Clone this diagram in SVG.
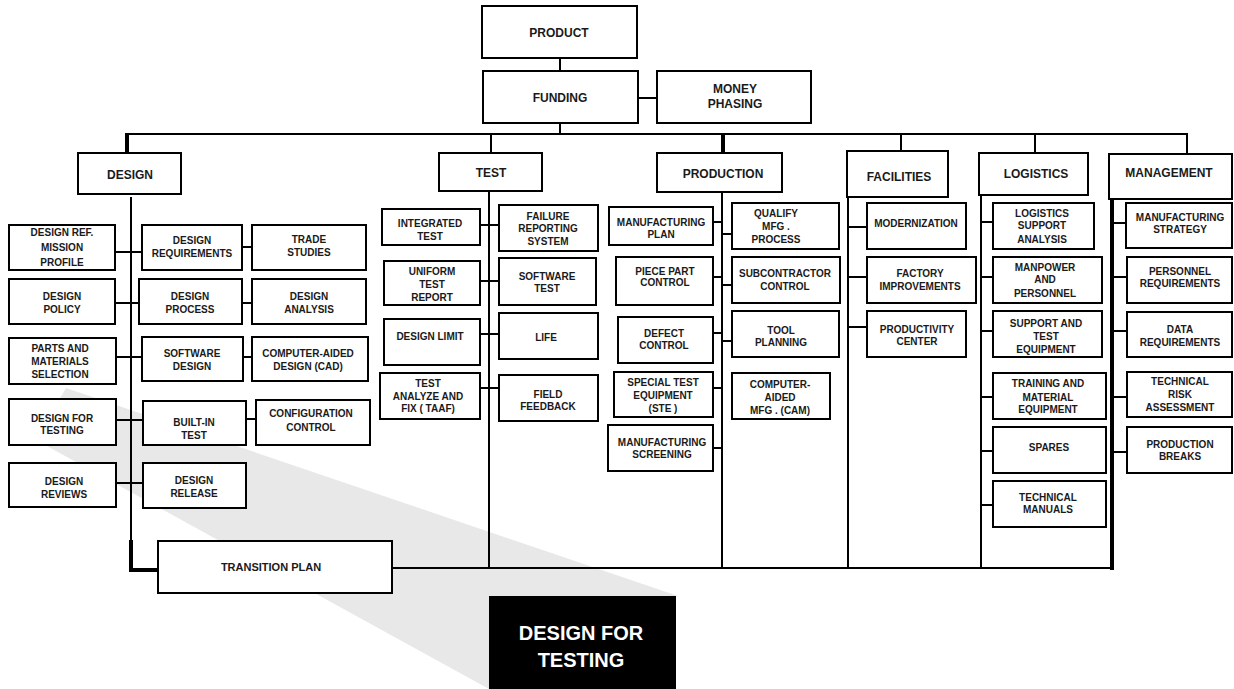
<svg xmlns="http://www.w3.org/2000/svg" width="1234" height="689" viewBox="0 0 1234 689">
<style>
.b{fill:#fff;stroke:#000;stroke-width:2}
.c line,.c path{stroke:#000;stroke-width:2;fill:none}
.c .k{stroke-width:4}
text{font-family:"Liberation Sans",Arial,sans-serif;font-weight:bold;font-size:10px;text-anchor:middle;fill:#1a1a1a}
.h text{font-size:12px}
</style>
<polygon points="66,388 678,596 489,689 36,440" fill="#e8e8e8"/>
<g class="c" id="connectors">
<line x1="560" y1="58" x2="560" y2="71"/>
<line x1="638" y1="98" x2="657" y2="98"/>
<line x1="560" y1="123" x2="560" y2="134"/>
<line x1="126" y1="134" x2="1188" y2="134"/>
<line class="k" x1="127" y1="133" x2="127" y2="153"/>
<line x1="491" y1="134" x2="491" y2="153"/>
<line class="k" x1="723" y1="134" x2="723" y2="153"/>
<line x1="901" y1="134" x2="901" y2="151"/>
<line x1="1035" y1="134" x2="1035" y2="153"/>
<line x1="1187" y1="134" x2="1187" y2="154"/>
<line x1="131" y1="197" x2="131" y2="545"/>
<path class="k" d="M131,540 V570 H158"/>
<line x1="115" y1="252" x2="142" y2="252"/>
<line x1="242" y1="247" x2="252" y2="247"/>
<line x1="115" y1="303" x2="139" y2="303"/>
<line x1="242" y1="303" x2="252" y2="303"/>
<line x1="116" y1="357" x2="142" y2="357"/>
<line x1="243" y1="357" x2="252" y2="357"/>
<line x1="116" y1="420" x2="143" y2="420"/>
<line x1="246" y1="419" x2="256" y2="419"/>
<line x1="116" y1="483" x2="143" y2="483"/>
<line x1="489" y1="191" x2="489" y2="568"/>
<line x1="480" y1="225" x2="499" y2="225"/>
<line x1="480" y1="281" x2="499" y2="281"/>
<line x1="480" y1="334" x2="499" y2="334"/>
<line x1="480" y1="388" x2="499" y2="388"/>
<line x1="722" y1="192" x2="722" y2="568"/>
<line x1="713" y1="222" x2="722" y2="222"/>
<line x1="713" y1="277" x2="722" y2="277"/>
<line x1="713" y1="333" x2="722" y2="333"/>
<line x1="713" y1="388" x2="722" y2="388"/>
<line x1="713" y1="448" x2="722" y2="448"/>
<line x1="722" y1="234" x2="732" y2="234"/>
<line x1="722" y1="285" x2="732" y2="285"/>
<line x1="722" y1="341" x2="732" y2="341"/>
<line x1="848" y1="197" x2="848" y2="568"/>
<line x1="848" y1="227" x2="867" y2="227"/>
<line x1="848" y1="277" x2="867" y2="277"/>
<line x1="848" y1="327" x2="867" y2="327"/>
<line x1="981" y1="195" x2="981" y2="568"/>
<line x1="981" y1="222" x2="993" y2="222"/>
<line x1="981" y1="277" x2="993" y2="277"/>
<line x1="981" y1="331" x2="993" y2="331"/>
<line x1="981" y1="397" x2="993" y2="397"/>
<line x1="981" y1="451" x2="993" y2="451"/>
<line x1="981" y1="505" x2="993" y2="505"/>
<line class="k" x1="1112" y1="199" x2="1112" y2="570"/>
<line x1="1112" y1="223" x2="1127" y2="223"/>
<line x1="1112" y1="277" x2="1127" y2="277"/>
<line x1="1112" y1="331" x2="1127" y2="331"/>
<line x1="1112" y1="397" x2="1127" y2="397"/>
<line x1="1112" y1="452" x2="1127" y2="452"/>
<line x1="392" y1="568" x2="1114" y2="568"/>
</g>
<g class="h">
<g id="product"><rect class="b" x="482" y="6" width="155" height="52"/><text x="559" y="37.3">PRODUCT</text></g>
<g id="funding"><rect class="b" x="483" y="71" width="155" height="52"/><text x="560" y="102.3">FUNDING</text></g>
<g id="money-phasing"><rect class="b" x="657" y="71" width="154" height="52"/><text x="735" y="93.3">MONEY</text><text x="735" y="108.3">PHASING</text></g>
<g id="design"><rect class="b" x="78" y="153" width="103" height="41"/><text x="130" y="179.3">DESIGN</text></g>
<g id="test"><rect class="b" x="439" y="153" width="103" height="38"/><text x="491" y="177.3">TEST</text></g>
<g id="production"><rect class="b" x="657" y="153" width="125" height="39"/><text x="723" y="178.3">PRODUCTION</text></g>
<g id="facilities"><rect class="b" x="847" y="151" width="101" height="46"/><text x="899" y="181.3">FACILITIES</text></g>
<g id="logistics"><rect class="b" x="979" y="153" width="109" height="42"/><text x="1036" y="178.3">LOGISTICS</text></g>
<g id="management"><rect class="b" x="1109" y="154" width="123" height="45"/><text x="1169" y="177.3">MANAGEMENT</text></g>
</g>
<g id="design-ref"><rect class="b" x="9" y="225" width="106" height="45"/><text x="62" y="235.6">DESIGN REF.</text><text x="62" y="250.6">MISSION</text><text x="62" y="265.6">PROFILE</text></g>
<g id="design-requirements"><rect class="b" x="142" y="225" width="100" height="45"/><text x="192" y="243.6">DESIGN</text><text x="192" y="256.6">REQUIREMENTS</text></g>
<g id="trade-studies"><rect class="b" x="252" y="225" width="114" height="45"/><text x="309" y="242.6">TRADE</text><text x="309" y="255.6">STUDIES</text></g>
<g id="design-policy"><rect class="b" x="9" y="279" width="106" height="45"/><text x="62" y="299.6">DESIGN</text><text x="62" y="312.6">POLICY</text></g>
<g id="design-process"><rect class="b" x="139" y="279" width="103" height="45"/><text x="190" y="299.6">DESIGN</text><text x="190" y="312.6">PROCESS</text></g>
<g id="design-analysis"><rect class="b" x="252" y="279" width="114" height="45"/><text x="309" y="299.6">DESIGN</text><text x="309" y="312.6">ANALYSIS</text></g>
<g id="parts-materials"><rect class="b" x="9" y="338" width="107" height="46"/><text x="60" y="351.6">PARTS AND</text><text x="60" y="364.6">MATERIALS</text><text x="60" y="377.6">SELECTION</text></g>
<g id="software-design"><rect class="b" x="142" y="337" width="101" height="44"/><text x="192" y="356.6">SOFTWARE</text><text x="192" y="369.6">DESIGN</text></g>
<g id="cad"><rect class="b" x="252" y="337" width="116" height="44"/><text x="308" y="356.6">COMPUTER-AIDED</text><text x="308" y="369.6">DESIGN (CAD)</text></g>
<g id="design-for-testing"><rect class="b" x="9" y="399" width="107" height="46"/><text x="62" y="421.6">DESIGN FOR</text><text x="62" y="433.6">TESTING</text></g>
<g id="built-in-test"><rect class="b" x="143" y="401" width="103" height="44"/><text x="194" y="425.6">BUILT-IN</text><text x="194" y="438.6">TEST</text></g>
<g id="configuration-control"><rect class="b" x="256" y="400" width="114" height="45"/><text x="311" y="416.6">CONFIGURATION</text><text x="311" y="430.6">CONTROL</text></g>
<g id="design-reviews"><rect class="b" x="9" y="463" width="107" height="44"/><text x="64" y="484.6">DESIGN</text><text x="64" y="497.6">REVIEWS</text></g>
<g id="design-release"><rect class="b" x="143" y="463" width="103" height="45"/><text x="194" y="483.6">DESIGN</text><text x="194" y="496.6">RELEASE</text></g>
<g id="integrated-test"><rect class="b" x="382" y="209" width="98" height="36"/><text x="430" y="226.6">INTEGRATED</text><text x="430" y="239.6">TEST</text></g>
<g id="failure-reporting"><rect class="b" x="499" y="205" width="99" height="46"/><text x="548" y="219.6">FAILURE</text><text x="548" y="231.6">REPORTING</text><text x="548" y="244.6">SYSTEM</text></g>
<g id="uniform-test-report"><rect class="b" x="384" y="261" width="96" height="44"/><text x="432" y="274.6">UNIFORM</text><text x="432" y="287.6">TEST</text><text x="432" y="300.6">REPORT</text></g>
<g id="software-test"><rect class="b" x="499" y="258" width="97" height="47"/><text x="547" y="279.6">SOFTWARE</text><text x="547" y="291.6">TEST</text></g>
<g id="design-limit"><rect class="b" x="384" y="319" width="96" height="46"/><text x="430" y="339.6">DESIGN LIMIT</text></g>
<g id="life"><rect class="b" x="499" y="313" width="99" height="46"/><text x="546" y="340.6">LIFE</text></g>
<g id="taaf"><rect class="b" x="380" y="373" width="100" height="46"/><text x="428" y="386.6">TEST</text><text x="428" y="399.6">ANALYZE AND</text><text x="428" y="411.6">FIX ( TAAF)</text></g>
<g id="field-feedback"><rect class="b" x="499" y="375" width="99" height="46"/><text x="548" y="397.6">FIELD</text><text x="548" y="409.6">FEEDBACK</text></g>
<g id="manufacturing-plan"><rect class="b" x="609" y="207" width="104" height="38"/><text x="661" y="225.6">MANUFACTURING</text><text x="661" y="237.6">PLAN</text></g>
<g id="qualify-mfg"><rect class="b" x="732" y="203" width="107" height="46"/><text x="776" y="216.6">QUALIFY</text><text x="776" y="229.6">MFG .</text><text x="776" y="242.6">PROCESS</text></g>
<g id="piece-part"><rect class="b" x="616" y="257" width="97" height="48"/><text x="665" y="274.6">PIECE PART</text><text x="665" y="285.6">CONTROL</text></g>
<g id="subcontractor"><rect class="b" x="732" y="257" width="108" height="46"/><text x="785" y="276.6">SUBCONTRACTOR</text><text x="785" y="289.6">CONTROL</text></g>
<g id="defect-control"><rect class="b" x="618" y="317" width="95" height="46"/><text x="664" y="336.6">DEFECT</text><text x="664" y="348.6">CONTROL</text></g>
<g id="tool-planning"><rect class="b" x="732" y="311" width="107" height="46"/><text x="781" y="333.6">TOOL</text><text x="781" y="345.6">PLANNING</text></g>
<g id="ste"><rect class="b" x="614" y="372" width="99" height="45"/><text x="663" y="385.6">SPECIAL TEST</text><text x="663" y="398.6">EQUIPMENT</text><text x="663" y="411.6">(STE )</text></g>
<g id="cam"><rect class="b" x="732" y="373" width="98" height="46"/><text x="780" y="387.6">COMPUTER-</text><text x="780" y="400.6">AIDED</text><text x="780" y="413.6">MFG . (CAM)</text></g>
<g id="mfg-screening"><rect class="b" x="608" y="425" width="105" height="46"/><text x="662" y="445.6">MANUFACTURING</text><text x="662" y="457.6">SCREENING</text></g>
<g id="modernization"><rect class="b" x="867" y="203" width="99" height="46"/><text x="916" y="226.6">MODERNIZATION</text></g>
<g id="factory-improvements"><rect class="b" x="867" y="257" width="109" height="46"/><text x="920" y="276.6">FACTORY</text><text x="920" y="289.6">IMPROVEMENTS</text></g>
<g id="productivity-center"><rect class="b" x="867" y="311" width="99" height="46"/><text x="917" y="332.6">PRODUCTIVITY</text><text x="917" y="344.6">CENTER</text></g>
<g id="lsa"><rect class="b" x="993" y="203" width="101" height="46"/><text x="1042" y="216.6">LOGISTICS</text><text x="1042" y="228.6">SUPPORT</text><text x="1042" y="242.6">ANALYSIS</text></g>
<g id="manpower"><rect class="b" x="993" y="257" width="109" height="46"/><text x="1045" y="270.6">MANPOWER</text><text x="1045" y="282.6">AND</text><text x="1045" y="296.6">PERSONNEL</text></g>
<g id="support-test-equipment"><rect class="b" x="993" y="311" width="109" height="46"/><text x="1046" y="326.6">SUPPORT AND</text><text x="1046" y="339.6">TEST</text><text x="1046" y="352.6">EQUIPMENT</text></g>
<g id="training"><rect class="b" x="993" y="373" width="113" height="46"/><text x="1048" y="386.6">TRAINING AND</text><text x="1048" y="400.6">MATERIAL</text><text x="1048" y="412.6">EQUIPMENT</text></g>
<g id="spares"><rect class="b" x="993" y="427" width="113" height="46"/><text x="1049" y="450.6">SPARES</text></g>
<g id="technical-manuals"><rect class="b" x="993" y="481" width="113" height="46"/><text x="1048" y="500.6">TECHNICAL</text><text x="1048" y="512.6">MANUALS</text></g>
<g id="mfg-strategy"><rect class="b" x="1126" y="203" width="106" height="45"/><text x="1180" y="220.6">MANUFACTURING</text><text x="1180" y="232.6">STRATEGY</text></g>
<g id="personnel-requirements"><rect class="b" x="1127" y="257" width="105" height="46"/><text x="1180" y="274.6">PERSONNEL</text><text x="1180" y="286.6">REQUIREMENTS</text></g>
<g id="data-requirements"><rect class="b" x="1127" y="312" width="105" height="45"/><text x="1180" y="332.6">DATA</text><text x="1180" y="345.6">REQUIREMENTS</text></g>
<g id="technical-risk"><rect class="b" x="1127" y="372" width="105" height="45"/><text x="1180" y="384.6">TECHNICAL</text><text x="1180" y="397.6">RISK</text><text x="1180" y="410.6">ASSESSMENT</text></g>
<g id="production-breaks"><rect class="b" x="1127" y="427" width="105" height="46"/><text x="1180" y="447.6">PRODUCTION</text><text x="1180" y="459.6">BREAKS</text></g>
<g id="transition-plan"><rect class="b" x="158" y="541" width="234" height="52"/><text x="271" y="570.9" style="font-size:11px">TRANSITION PLAN</text></g>
<g id="design-for-testing-title"><rect x="489" y="596" width="187" height="93" fill="#000"/><text x="581" y="640" style="font-size:20px;fill:#fff">DESIGN FOR</text><text x="581" y="667" style="font-size:20px;fill:#fff">TESTING</text></g>
</svg>
